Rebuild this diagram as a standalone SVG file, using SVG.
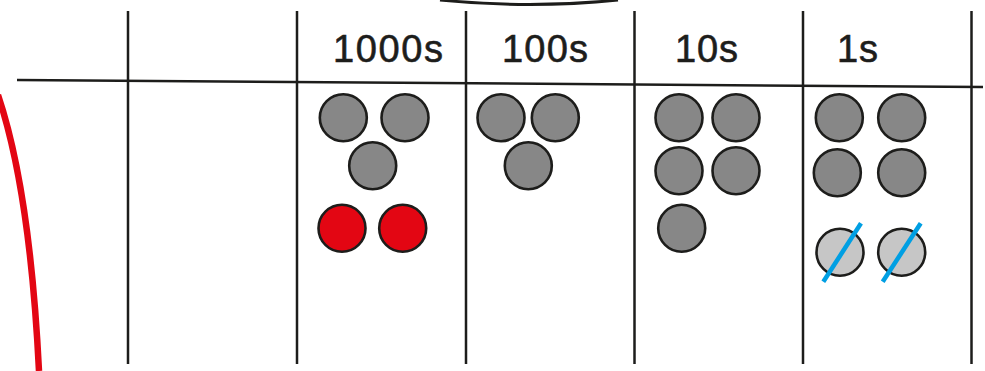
<svg xmlns="http://www.w3.org/2000/svg" width="985" height="371" viewBox="0 0 985 371">
<style>
.grid{stroke:#1d1d1b;stroke-width:2.5;fill:none}
.hdr{font-family:"Liberation Sans",Arial,sans-serif;font-size:38px;fill:#1d1d1b;stroke:#1d1d1b;stroke-width:0.6}
.c{stroke:#1d1d1b;stroke-width:2.6}
.g{fill:#878787}
.r{fill:#e30613}
.l{fill:#c6c6c6}
.x{stroke:#009fe3;stroke-width:4.5;stroke-linecap:butt}
</style>
<rect width="985" height="371" fill="#ffffff"/>
<g id="decor">
<path d="M440 0 Q530 9 618 0" fill="none" stroke="#1d1d1b" stroke-width="3"/>
<path d="M-2 95 Q30 190 39 371" fill="none" stroke="#e30613" stroke-width="6.5"/>
</g>
<g id="grid" class="grid">
<line x1="17" y1="80" x2="983" y2="87"/>
<line x1="128" y1="11" x2="128" y2="364"/>
<line x1="297" y1="11" x2="297" y2="364"/>
<line x1="466" y1="11" x2="466" y2="364"/>
<line x1="634.5" y1="11" x2="634.5" y2="364"/>
<line x1="803" y1="11" x2="803" y2="364"/>
<line x1="971.5" y1="11" x2="971.5" y2="364"/>
</g>
<g id="headers" class="hdr">
<text x="333" y="62" textLength="110">1000s</text>
<text x="502" y="62" textLength="86">100s</text>
<text x="675" y="62" textLength="63">10s</text>
<text x="837" y="62" textLength="41">1s</text>
</g>
<g id="col-1000s">
<circle class="c g" cx="343.3" cy="117.7" r="23.5"/>
<circle class="c g" cx="405" cy="117.7" r="23.5"/>
<circle class="c g" cx="372.7" cy="165.7" r="23.5"/>
<circle class="c r" cx="342" cy="228.3" r="23.5"/>
<circle class="c r" cx="402.7" cy="228.3" r="23.5"/>
</g>
<g id="col-100s">
<circle class="c g" cx="501" cy="117.7" r="23.5"/>
<circle class="c g" cx="555.3" cy="117.7" r="23.5"/>
<circle class="c g" cx="528.3" cy="165.7" r="23.5"/>
</g>
<g id="col-10s">
<circle class="c g" cx="679" cy="117.7" r="23.5"/>
<circle class="c g" cx="736" cy="117.7" r="23.5"/>
<circle class="c g" cx="679" cy="170.7" r="23.5"/>
<circle class="c g" cx="736" cy="170.7" r="23.5"/>
<circle class="c g" cx="681.7" cy="228.3" r="23.5"/>
</g>
<g id="col-1s">
<circle class="c g" cx="839.3" cy="117.7" r="23.5"/>
<circle class="c g" cx="901.7" cy="117.7" r="23.5"/>
<circle class="c g" cx="837.3" cy="172.7" r="23.5"/>
<circle class="c g" cx="901.7" cy="172.7" r="23.5"/>
<circle class="c l" cx="840" cy="252.3" r="23.5"/>
<circle class="c l" cx="901.7" cy="252.3" r="23.5"/>
<line class="x" x1="823.3" y1="281.7" x2="861" y2="223.3"/>
<line class="x" x1="882.7" y1="281.7" x2="920.7" y2="223.3"/>
</g>
</svg>
